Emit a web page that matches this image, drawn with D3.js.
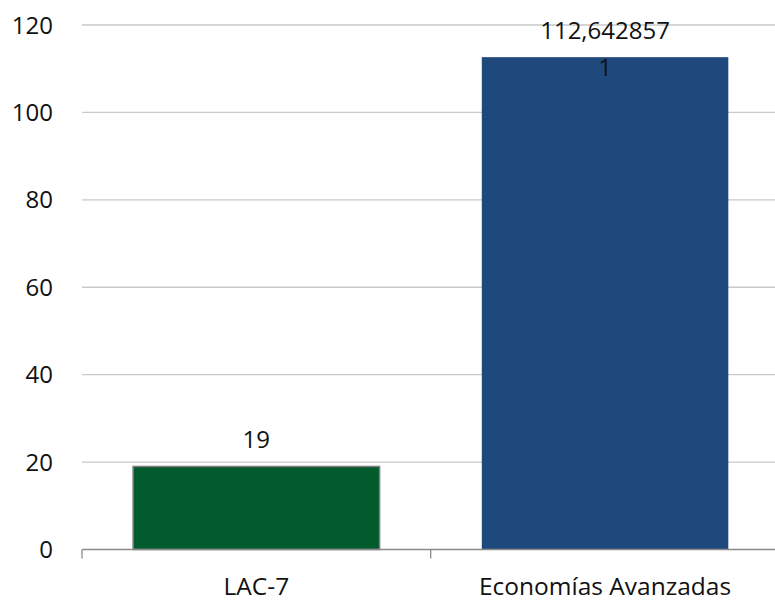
<!DOCTYPE html>
<html>
<head>
<meta charset="utf-8">
<script src="https://cdn.jsdelivr.net/npm/d3@7"></script>
<style>
  html, body { margin: 0; padding: 0; background: #fff; }
  svg { display: block; }
  text { font-family: "Open Sans", "Noto Sans", sans-serif; fill: #111; }
</style>
</head>
<body>
<svg id="chart" width="775" height="602"></svg>
<script>
const categories = ["LAC-7", "Economías Avanzadas"];
const values = [19, 112.6428571];
const valueLabels = ["19", "112,6428571"];
const barColors = ["#025B2C", "#1F497D"];
const barStrokes = ["#7f7f7f", "none"];
const yTicks = [0, 20, 40, 60, 80, 100, 120];

(function () {
const svg = d3.select("#chart");
const plotLeft = 82, plotRight = 779.4, plotTop = 25, plotBottom = 549.5;

const y = d3.scaleLinear().domain([0, 120]).range([plotBottom, plotTop]);
const x = d3.scaleBand().domain(categories).range([plotLeft, plotRight])
  .paddingInner(0.293).paddingOuter(0.1465);
const xCat = d3.scaleBand().domain(categories).range([plotLeft, plotRight]).padding(0);

// gridlines
svg.append("g").selectAll("line").data(yTicks.filter(d => d > 0)).join("line")
  .attr("x1", plotLeft).attr("x2", plotRight)
  .attr("y1", d => y(d)).attr("y2", d => y(d))
  .attr("stroke", "#c9c9c9").attr("stroke-width", 1.3);

// y tick labels
svg.append("g").selectAll("text").data(yTicks).join("text")
  .attr("x", 53).attr("y", d => y(d)).attr("dy", "0.36em")
  .attr("text-anchor", "end").attr("font-size", 24)
  .text(d => d);

// bars
svg.append("g").selectAll("rect").data(values).join("rect")
  .attr("x", (d, i) => x(categories[i]))
  .attr("width", x.bandwidth())
  .attr("y", d => y(d))
  .attr("height", d => y(0) - y(d))
  .attr("fill", (d, i) => barColors[i])
  .attr("stroke", (d, i) => barStrokes[i])
  .attr("stroke-width", 1.5);

// x axis line and ticks
svg.append("line").attr("x1", plotLeft).attr("x2", plotRight)
  .attr("y1", plotBottom).attr("y2", plotBottom)
  .attr("stroke", "#8a8a8a").attr("stroke-width", 1.3);
const boundaries = categories.map(c => xCat(c)).concat([plotRight]);
svg.append("g").selectAll("line").data(boundaries).join("line")
  .attr("x1", d => d).attr("x2", d => d)
  .attr("y1", plotBottom).attr("y2", plotBottom + 9)
  .attr("stroke", "#8a8a8a").attr("stroke-width", 1.3);

// x labels
svg.append("g").selectAll("text").data(categories).join("text")
  .attr("x", d => xCat(d) + xCat.bandwidth() / 2).attr("y", 595)
  .attr("text-anchor", "middle").attr("font-size", 24.5)
  .text(d => d);

// value labels (wrapped like the original)
values.forEach((v, i) => {
  const s = valueLabels[i];
  const lines = s.length > 10 ? [s.slice(0, 10), s.slice(10)] : [s];
  const cx = x(categories[i]) + x.bandwidth() / 2;
  const t = svg.append("text").attr("text-anchor", "middle").attr("font-size", 24);
  lines.forEach((ln, j) => {
    t.append("tspan").attr("x", cx).attr("y", y(v) - 18.5 + j * 37).text(ln);
  });
});
})();
</script>
</body>
</html>
